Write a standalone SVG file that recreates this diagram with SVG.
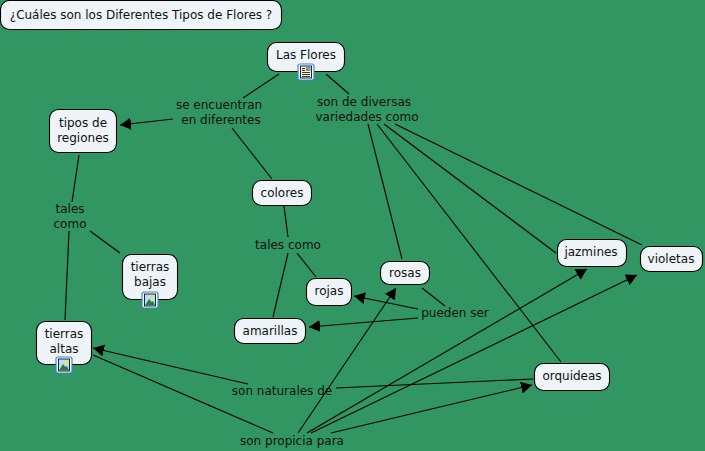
<svg xmlns="http://www.w3.org/2000/svg" width="705" height="451" viewBox="0 0 705 451">
<style>
text{font-family:"DejaVu Sans",Verdana,sans-serif;font-size:12px;fill:#111;text-anchor:middle}
.n{fill:#eef4f7;stroke:#000;stroke-width:1.1}
.c line{stroke:#000;stroke-width:1.1}
.a{marker-end:url(#ah)}
</style>
<defs>
<marker id="ah" markerUnits="userSpaceOnUse" markerWidth="14" markerHeight="14" refX="11" refY="6" orient="auto"><path d="M0 0L11 6L0 12Z" fill="#000"/></marker>
<g id="ic"><rect x="-8" y="-8" width="16" height="16" rx="2" fill="#fff" stroke="#3f86cc" stroke-width="1.200"/><rect x="-5.500" y="-6" width="11" height="12" fill="#b9dff0" stroke="#13235a"/><path d="M-5 5.500L-1 -1L1.500 2L3 1L5 5.500Z" fill="#2f7a35"/><circle cx="2.500" cy="-3" r="2" fill="#f5e050"/></g>
<g id="dc"><rect x="-8" y="-8" width="16" height="16" rx="2" fill="#fff" stroke="#3f86cc" stroke-width="1.200"/><rect x="-5.500" y="-6" width="11" height="12" fill="#f7f3c0" stroke="#13235a"/><path d="M-4 0.500H4M-4 2.500H4M-4 4.500H4M-4 -1.500H-1M-4 -3.500H-1" stroke="#222" stroke-width="0.900"/><rect x="0" y="-5" width="4.500" height="4" fill="#8a8fb0"/></g>
</defs>
<rect width="705" height="451" fill="#329663"/>
<g class="c" id="connectors">
<line x1="279" y1="74" x2="243" y2="98"/>
<line x1="326" y1="74" x2="349" y2="94"/>
<line class="a" x1="173" y1="119" x2="120" y2="125"/>
<line x1="232" y1="128" x2="272" y2="179"/>
<line x1="79" y1="155" x2="72" y2="202"/>
<line x1="69" y1="231" x2="65" y2="320"/>
<line x1="90" y1="231" x2="120" y2="253"/>
<line x1="284" y1="206" x2="288" y2="237"/>
<line x1="288" y1="253" x2="273" y2="317"/>
<line x1="297" y1="253" x2="316" y2="277"/>
<line x1="368" y1="124" x2="402" y2="259"/>
<line x1="377" y1="124" x2="561" y2="362"/>
<line x1="384" y1="124" x2="556" y2="253"/>
<line x1="395" y1="124" x2="642" y2="245"/>
<line x1="422" y1="288" x2="445" y2="306"/>
<line class="a" x1="418" y1="309" x2="354" y2="296"/>
<line class="a" x1="418" y1="318" x2="309" y2="327"/>
<line x1="336" y1="388" x2="533" y2="379"/>
<line class="a" x1="248" y1="384" x2="93" y2="348"/>
<line x1="273" y1="433" x2="93" y2="355"/>
<line class="a" x1="298" y1="433" x2="396" y2="288"/>
<line class="a" x1="307" y1="433" x2="587" y2="269"/>
<line class="a" x1="311" y1="433" x2="637" y2="275"/>
<line class="a" x1="331" y1="433" x2="532" y2="385"/>
</g>
<g id="title"><rect class="n" x="0.500" y="0.500" width="281" height="29" rx="9"/><text x="141" y="19">¿Cuáles son los Diferentes Tipos de Flores ?</text></g>
<g id="las-flores"><rect class="n" x="267.500" y="42.500" width="77" height="29" rx="9"/><text x="306" y="59">Las Flores</text><use href="#dc" x="306" y="72"/></g>
<g id="tipos"><rect class="n" x="49.500" y="109.500" width="67" height="43" rx="9"/><text x="83" y="127">tipos de</text><text x="83" y="142">regiones</text></g>
<g id="colores"><rect class="n" x="252.500" y="180.500" width="59" height="25" rx="9"/><text x="282" y="197">colores</text></g>
<g id="tierras-bajas"><rect class="n" x="122.500" y="254.500" width="55" height="45" rx="9"/><text x="150" y="271">tierras</text><text x="150" y="286">bajas</text><use href="#ic" x="150" y="300"/></g>
<g id="tierras-altas"><rect class="n" x="36.500" y="321.500" width="55" height="43" rx="9"/><text x="64" y="338">tierras</text><text x="64" y="353">altas</text><use href="#ic" x="64" y="365"/></g>
<g id="rosas"><rect class="n" x="380.500" y="261.500" width="49" height="23" rx="9"/><text x="405" y="277">rosas</text></g>
<g id="rojas"><rect class="n" x="306.500" y="278.500" width="45" height="27" rx="9"/><text x="329" y="295">rojas</text></g>
<g id="amarillas"><rect class="n" x="234.500" y="318.500" width="71" height="25" rx="9"/><text x="270" y="335">amarillas</text></g>
<g id="jazmines"><rect class="n" x="557.500" y="239.500" width="69" height="27" rx="9"/><text x="591" y="256">jazmines</text></g>
<g id="violetas"><rect class="n" x="640.500" y="246.500" width="62" height="25" rx="9"/><text x="671" y="263">violetas</text></g>
<g id="orquideas"><rect class="n" x="534.500" y="363.500" width="75" height="27" rx="9"/><text x="572" y="380">orquideas</text></g>
<g id="labels">
<text x="219" y="109">se encuentran</text><text x="221" y="124">en diferentes</text>
<text x="364" y="106">son de diversas</text><text x="367" y="121">variedades como</text>
<text x="70" y="213">tales</text><text x="70" y="228">como</text>
<text x="288" y="249">tales como</text>
<text x="455" y="317">pueden ser</text>
<text x="282" y="395">son naturales de</text>
<text x="292" y="445">son propicia para</text>
</g>
</svg>
